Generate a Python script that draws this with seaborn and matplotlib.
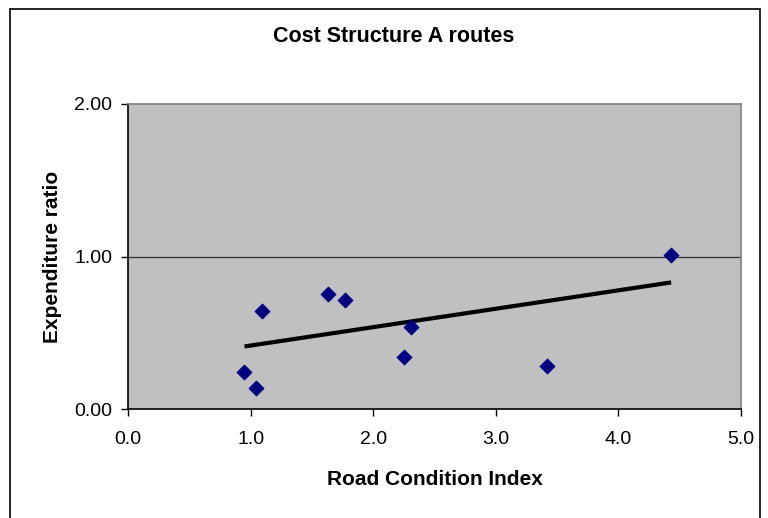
import matplotlib
matplotlib.use("Agg")
import matplotlib.pyplot as plt
import matplotlib.patches as mpatches
import seaborn as sns
import pandas as pd

# Route observations
road_condition = [0.95, 1.04, 1.09, 1.63, 1.77, 2.25, 2.31, 3.42, 4.43]
expenditure_ratio = [0.24, 0.14, 0.645, 0.755, 0.715, 0.34, 0.535, 0.28, 1.01]

# Linear trend drawn across the observed range
trend_x = [0.95, 4.43]
trend_y = [0.41, 0.83]

x_ticks = [0.0, 1.0, 2.0, 3.0, 4.0, 5.0]
y_ticks = [0.0, 1.0, 2.0]

sns.set_theme(style="white")
plt.rcParams["font.family"] = ["Liberation Sans", "DejaVu Sans"]
plt.rcParams.update({"text.color": "black", "axes.labelcolor": "black",
                     "xtick.color": "black", "ytick.color": "black"})

W, H = 768, 518
fig = plt.figure(figsize=(W / 100, H / 100), dpi=100)
ax = fig.add_axes([128 / W, 1 - 409 / H, (741 - 128) / W, (409 - 104) / H])
ax.set_facecolor("#C0C0C0")

# Chart frame
fig.patches.append(mpatches.Rectangle((10 / W, -0.1), (760 - 10) / W, 1.1 - 9 / H,
                                      transform=fig.transFigure, fill=False,
                                      edgecolor="black", linewidth=1.2))

pts = pd.DataFrame({"x": road_condition, "y": expenditure_ratio})
trend = pd.DataFrame({"x": trend_x, "y": trend_y})

ax.axhline(1.0, color="#303030", linewidth=0.9, zorder=1)
sns.lineplot(data=trend, x="x", y="y", ax=ax, color="black", linewidth=3.0,
             solid_capstyle="butt", zorder=3)
sns.scatterplot(data=pts, x="x", y="y", ax=ax, marker="D", s=60,
                color="#000080", edgecolor="#000080", linewidth=0.5, zorder=4)

ax.set_xlim(0, 5)
ax.set_ylim(0, 2)
ax.set_xticks(x_ticks)
ax.set_yticks(y_ticks)
ax.set_xticklabels([f"{v:.1f}" for v in x_ticks], fontsize=14)
ax.set_yticklabels([f"{v:.2f}" for v in y_ticks], fontsize=14)
ax.tick_params(axis="both", direction="out", length=5, width=1, color="black",
               labelcolor="black", bottom=True, left=True)
ax.tick_params(axis="x", pad=11)
ax.tick_params(axis="y", pad=6.5)

for side in ["left", "bottom"]:
    ax.spines[side].set_color("black")
    ax.spines[side].set_linewidth(1.2)
for side in ["top", "right"]:
    ax.spines[side].set_visible(True)
    ax.spines[side].set_color("#808080")
    ax.spines[side].set_linewidth(1.2)

ax.set_xlabel("Road Condition Index", fontsize=15, fontweight="bold", labelpad=16)
ax.set_ylabel("Expenditure ratio", fontsize=15, fontweight="bold", labelpad=9)
fig.text(394 / W, 1 - 36 / H, "Cost Structure A routes",
         ha="center", va="center", fontsize=15.5, fontweight="bold")

fig.savefig("out.png", dpi=100)
